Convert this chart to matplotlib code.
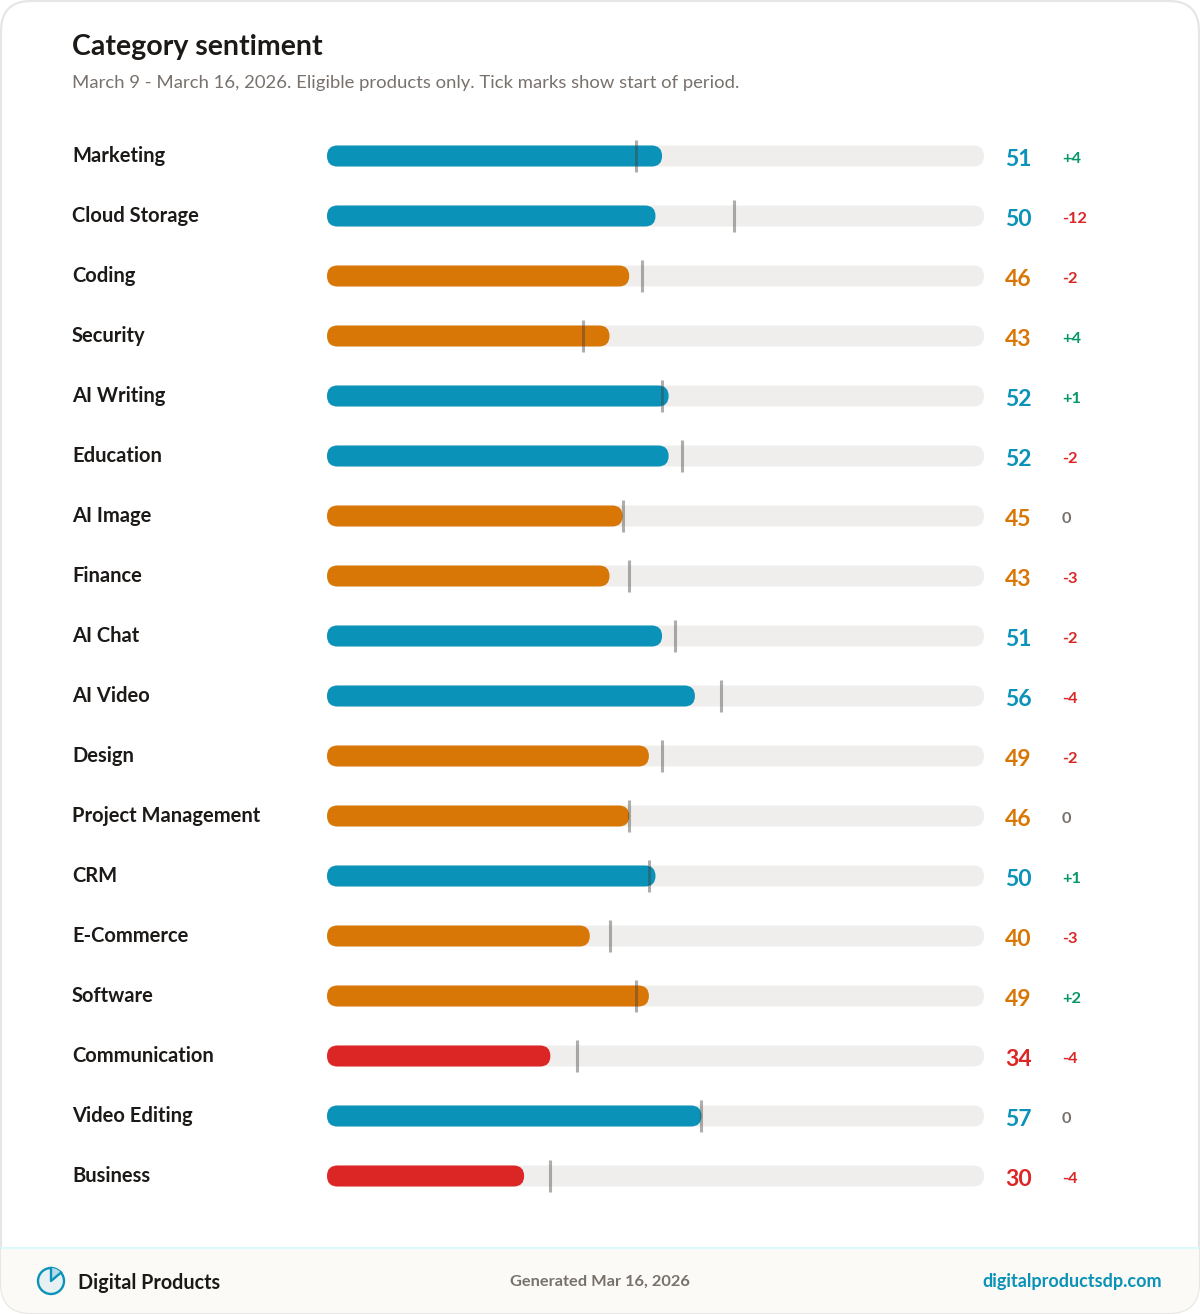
import matplotlib
matplotlib.use("Agg")
import matplotlib.pyplot as plt
from matplotlib.patches import FancyBboxPatch, Circle, Wedge, Rectangle

categories = ["Marketing", "Cloud Storage", "Coding", "Security", "AI Writing", "Education",
              "AI Image", "Finance", "AI Chat", "AI Video", "Design", "Project Management",
              "CRM", "E-Commerce", "Software", "Communication", "Video Editing", "Business"]
scores = [51, 50, 46, 43, 52, 52, 45, 43, 51, 56, 49, 46, 50, 40, 49, 34, 57, 30]
changes = [4, -12, -2, 4, 1, -2, 0, -3, -2, -4, -2, 0, 1, -3, 2, -4, 0, -4]

BLUE = "#0a92b8"
ORANGE = "#d97706"
RED = "#dc2626"
GREEN = "#059669"
TRACK = "#efeeec"
INK = "#1c1917"
MUTED = "#78716c"
FONT = "Lato"

W, H = 1200, 1314
plt.rcParams["font.family"] = FONT
fig = plt.figure(figsize=(W / 100, H / 100), dpi=100, facecolor="white")

# page layer in pixel coordinates
page = fig.add_axes([0, 0, 1, 1])
page.set_xlim(0, W)
page.set_ylim(H, 0)
page.axis("off")

card = FancyBboxPatch((1, 1), W - 2, H - 2, boxstyle="round,pad=0,rounding_size=30",
                      fc="white", ec="#e7e6e4", lw=1.6, zorder=1)
page.add_patch(card)
footer = Rectangle((1, 1248), W - 2, H - 1248, fc="#fbfaf6", ec="none", zorder=2)
page.add_patch(footer)
footer.set_clip_path(card)
page.plot([2, W - 2], [1248, 1248], color="#dff8fb", lw=1.6, zorder=3)

page.text(72, 47, "Category sentiment", fontsize=20.5, fontweight="bold", color=INK,
          va="center", zorder=5)
page.text(72, 83, "March 9 - March 16, 2026. Eligible products only. Tick marks show start of period.",
          fontsize=13.3, color=MUTED, va="center", zorder=5)

# footer logo, a small pie
page.add_patch(Circle((51, 1281), 13, fc="#e7f1f4", ec=BLUE, lw=1.7, zorder=5))
page.add_patch(Wedge((51, 1281), 13, -90, -40, fc="#b5dbe6", ec="none", zorder=5))
page.plot([51, 51, 61], [1268, 1281, 1272.5], color=BLUE, lw=1.7, zorder=6)
page.text(78, 1283, "Digital Products", fontsize=14.2, fontweight="bold", color=INK, va="center", zorder=5)
page.text(600, 1282, "Generated Mar 16, 2026", fontsize=11.8, fontweight="bold", color=MUTED,
          ha="center", va="center", zorder=5)
page.text(1162, 1282, "digitalproductsdp.com", fontsize=13, fontweight="bold", color=BLUE,
          ha="right", va="center", zorder=5)

# bars on a 0-100 scale, one row every 60 px starting at y=156
ax = fig.add_axes([327 / W, 1 - (156 - 30 + 60 * len(categories)) / H, 657 / W, 60 * len(categories) / H])
ax.set_xlim(0, 100)
ax.set_ylim(len(categories) - 0.5, -0.5)
ax.axis("off")
ax.patch.set_alpha(0)

px_x = 100 / 657
px_y = 1 / 60
bar_h = 21 * px_y
aspect = px_y / px_x
radius = 10.5 * px_x


def score_color(v):
    if v >= 50:
        return BLUE
    if v >= 40:
        return ORANGE
    return RED


def pill(v, y, color, z):
    return FancyBboxPatch((0, y - bar_h / 2), v, bar_h,
                          boxstyle=f"round,pad=0,rounding_size={radius}",
                          mutation_aspect=aspect, fc=color, ec="none", zorder=z)


for i, (name, v, d) in enumerate(zip(categories, scores, changes)):
    ax.add_patch(pill(100, i, TRACK, 2))
    ax.add_patch(pill(v, i, score_color(v), 3))
    ax.plot([v - d, v - d], [i - 16 * px_y, i + 16 * px_y], color="#44403c", alpha=0.42,
            lw=2.2, solid_capstyle="butt", zorder=4)

    py = 156 + 60 * i
    page.text(72, py, name, fontsize=14.5, fontweight="bold", color=INK, va="center", zorder=5)
    page.text(1005, py + 3, str(v), fontsize=16.5, fontweight="bold", color=score_color(v),
              va="center", zorder=5)
    delta_color = GREEN if d > 0 else RED if d < 0 else MUTED
    delta = f"+{d}" if d > 0 else str(d)
    page.text(1062, py + 3, delta, fontsize=11.8, fontweight="bold", color=delta_color,
              va="center", zorder=5)

fig.savefig("out.png", dpi=100, facecolor="white")
plt.close(fig)
